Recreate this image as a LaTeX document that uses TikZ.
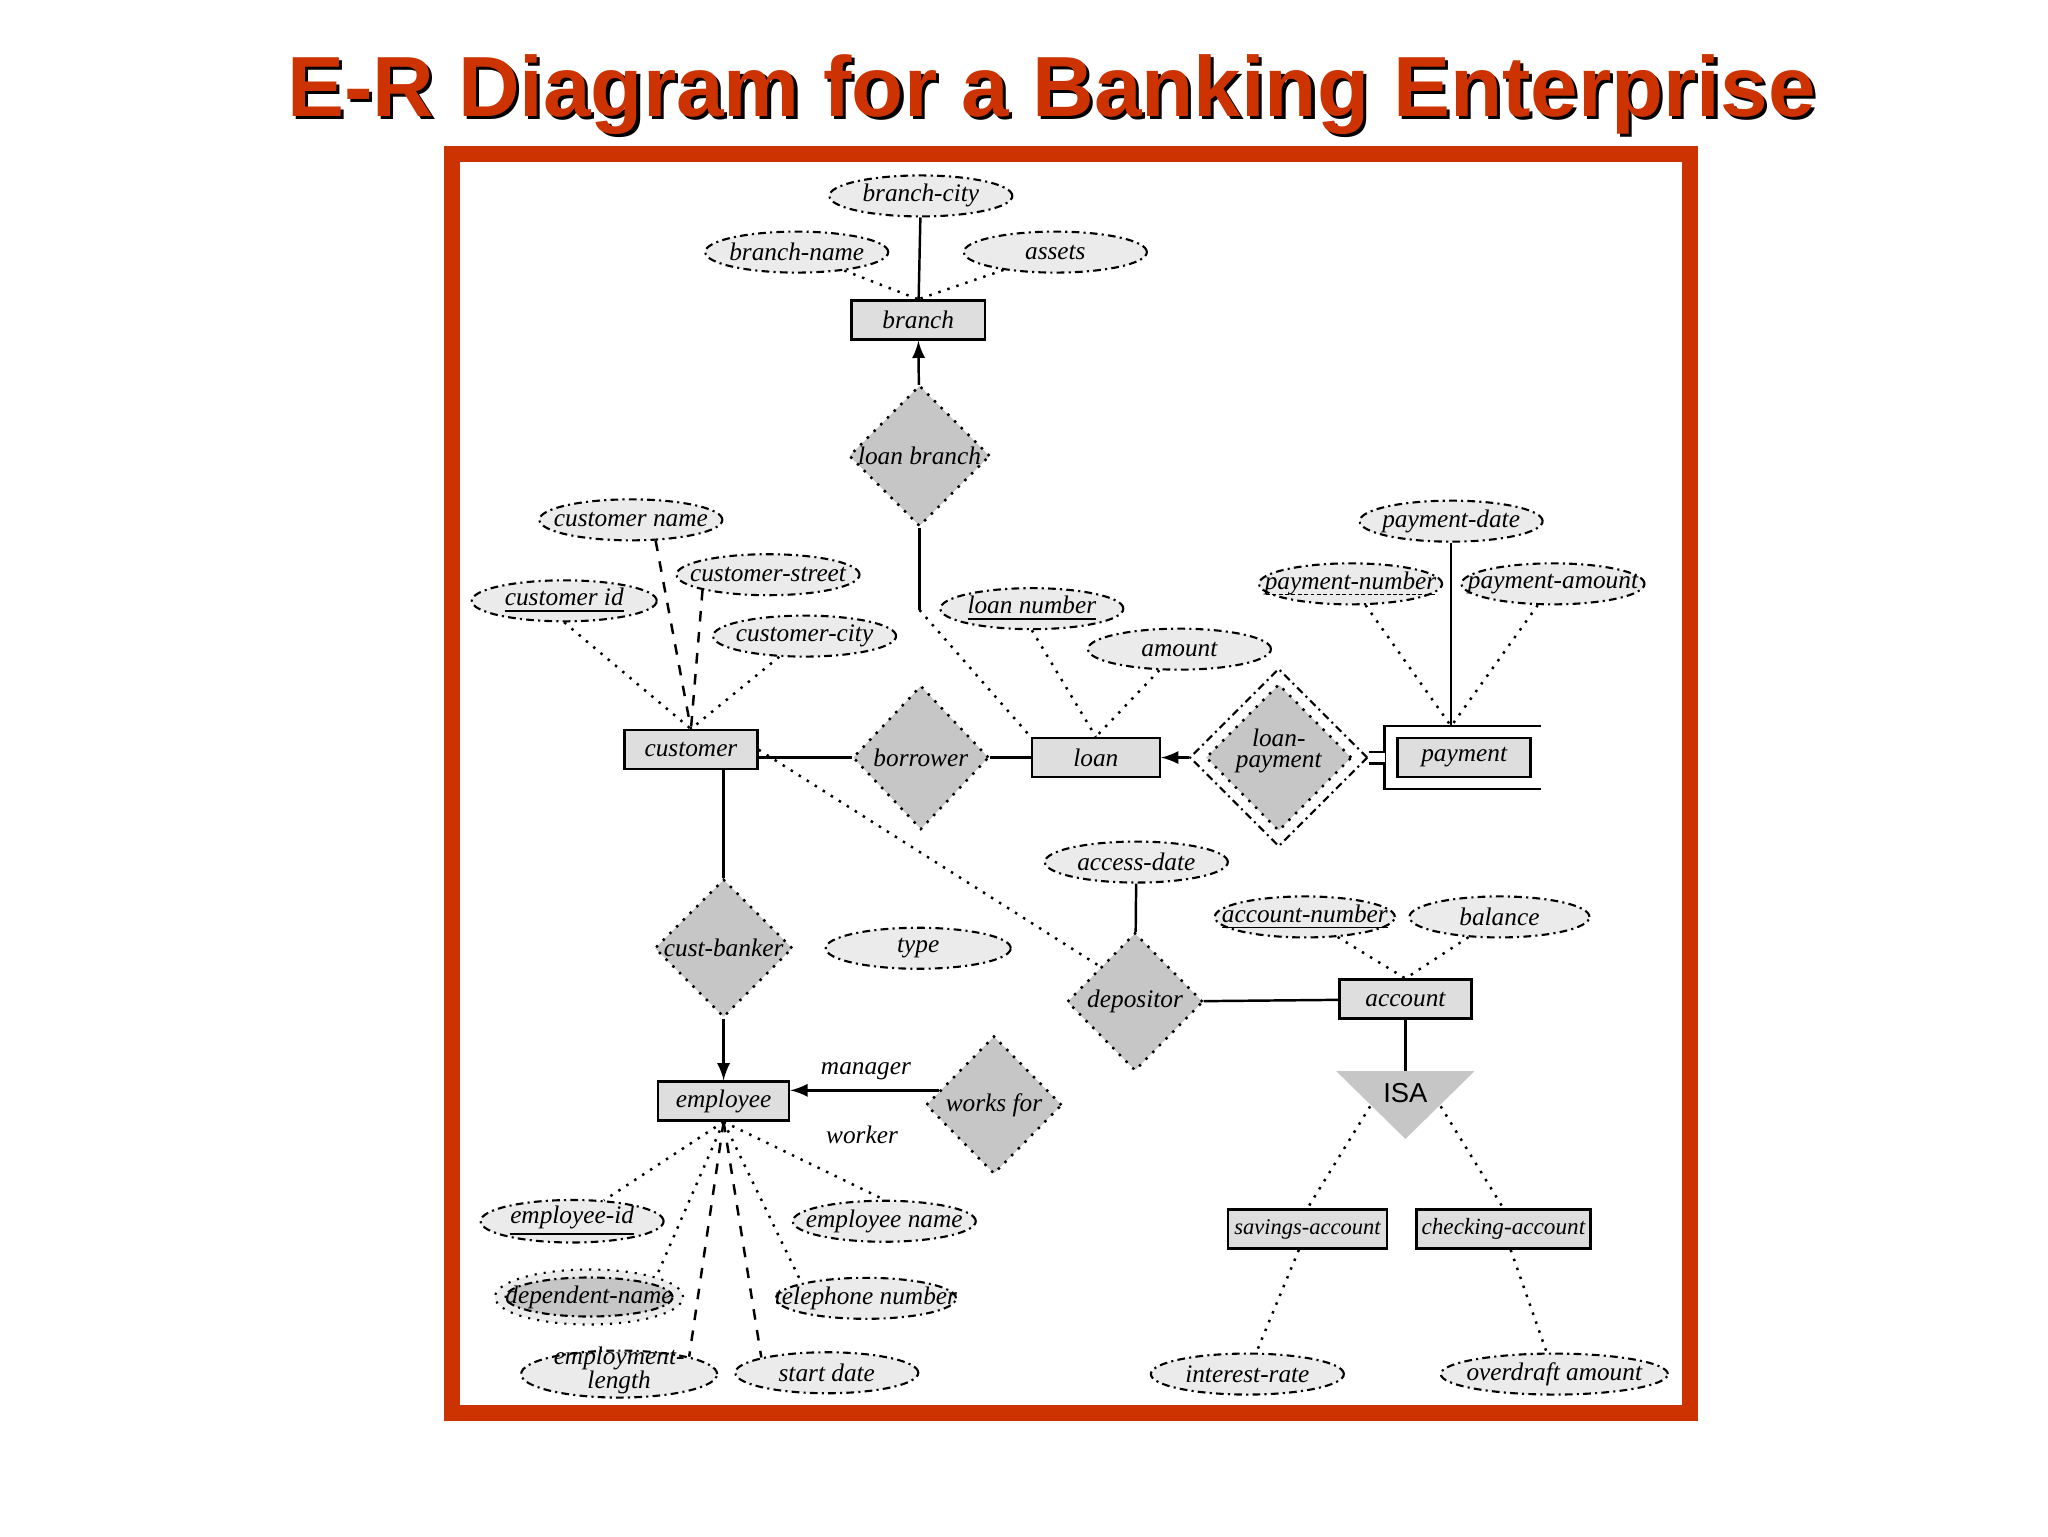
\documentclass[tikz,border=0pt]{standalone}
\usepackage{fontspec}
\setmainfont{Liberation Serif}
\newfontfamily\titlefont{Liberation Sans}
\usepackage{tikz}
\usetikzlibrary{positioning}
\usetikzlibrary{shapes.geometric}
\usepackage{xcolor}

\definecolor{framered}{HTML}{CC3300}
\definecolor{entfill}{HTML}{DEDEDE}
\definecolor{relfill}{HTML}{C6C6C6}
\definecolor{attfill}{HTML}{EBEBEB}

\newcommand{\erfont}{\fontsize{7.2}{7.6}\selectfont\itshape}
\newcommand{\ertext}[1]{\makebox[0pt]{#1}}
\newcommand{\ertwo}[2]{\makebox[0pt]{\smash{\renewcommand{\arraystretch}{0.8}\begin{tabular}{@{}c@{}}#1\\#2\end{tabular}}}}
\newsavebox{\ulbox}
\newcommand{\dashunder}[1]{\sbox{\ulbox}{#1}\rlap{\raisebox{-1.5pt}{\hbox to \wd\ulbox{\xleaders\hbox to 1.8pt{\hss\vrule width 1.1pt height 0.4pt\hss}\hfill}}}\usebox{\ulbox}}

\tikzset{
  entity/.style={draw, line width=0.7pt, fill=entfill, minimum width=13.3mm,
    minimum height=3.9mm, inner sep=0pt, font=\erfont},
  rel/.style={diamond, draw, dotted, line width=0.7pt, fill=relfill,
    minimum width=13.8mm, minimum height=13.8mm, inner sep=0pt, font=\erfont},
  attr/.style={ellipse, draw, line width=0.6pt,
    dash pattern=on 2.2pt off 1.2pt on 0.6pt off 1.2pt, fill=attfill,
    minimum width=18.3mm, minimum height=4.1mm, inner sep=0pt, font=\erfont},
  link/.style={line width=0.7pt},
  dotline/.style={dotted, line width=0.7pt},
  dashline/.style={dashed, line width=0.7pt},
  titletext/.style={anchor=base, font=\titlefont\bfseries\fontsize{24.3}{28}\selectfont},
}

\begin{document}
\begin{tikzpicture}[x=0.1306mm, y=-0.1306mm]
    \useasboundingbox (0,0) rectangle (1568,1176);

    % Title and frame
    \node[titletext, text=black] (titleshadow) at (807.5,91.5) {E-R Diagram for a Banking Enterprise};
    \node[titletext, text=framered] (title) at (805,89) {E-R Diagram for a Banking Enterprise};
    \draw[framered, line width=1.57mm] (346,118) rectangle (1294,1082);

    % Entity sets
    \foreach \nm/\x/\y/\w/\txt in {branch/703/245/13.3/branch,
        customer/529/574/13.3/customer, loan/839/580/12.8/loan,
        payment/1121/580/13.3/payment, employee/554/843/13.1/employee,
        account/1076/765/13.2/account} {
        \node[entity, minimum width=\w mm] (\nm) at (\x,\y) {\ertext{\txt}};
    }
    \node[entity, minimum width=15.9mm, font=\erfont\fontsize{6.4}{7}\selectfont] (savings) at (1001,941) {\ertext{savings-account}};
    \node[entity, minimum width=17.4mm, font=\erfont\fontsize{6.6}{7}\selectfont] (checking) at (1151,941) {\ertext{checking-account}};

    % Relationship sets
    \node[rel, minimum width=14.1mm, minimum height=14.1mm] (lb) at (704,349) {\ertext{loan branch}};
    \node[rel, minimum width=13.6mm, minimum height=14.4mm] (borrower) at (705,580) {\ertext{borrower}};
    \node[diamond, draw, line width=0.6pt, dash pattern=on 2.2pt off 1.2pt on 0.6pt off 1.2pt,
        minimum width=17.8mm, minimum height=17.8mm] (lpout) at (979,580) {};
    \node[rel, minimum width=14.6mm, minimum height=14.7mm] (lp) at (979,580) {\ertwo{loan-}{payment}};
    \node[rel] (custbanker) at (554,726) {\ertext{cust-banker}};
    \node[rel, minimum width=13.6mm] (depositor) at (869,767) {\ertext{depositor}};
    \node[rel, minimum width=13.6mm] (worksfor) at (761,846) {\ertext{works for}};

    % ISA triangle
    \fill[relfill] (1023,820) -- (1129,820) -- (1076,872) -- cycle;
    \node[font=\titlefont\fontsize{7.8}{9}\selectfont] (isa) at (1076,837) {ISA};
    \coordinate (isatop) at (1076,820);
    \coordinate (isaleft) at (1049,847);
    \coordinate (isaright) at (1103,847);

    % Attributes
    \foreach \nm/\x/\y/\w/\txt in {bcity/705/150/18.3/branch-city,
        bname/610/193/18.3/branch-name, assets/808/193/18.3/assets,
        cname/483/398/18.3/customer name, cstreet/588/440/18.3/customer-street,
        cid/432/460/18.5/\underline{customer id}, ccity/616/487/18.3/customer-city,
        lnum/790/466/18.3/\underline{loan number}, amount/903/497/18.3/amount,
        pdate/1111/399/18.3/payment-date, pnum/1034/447/18.3/\dashunder{payment-number},
        pamt/1189/447/18.3/payment-amount, adate/870/660/18.3/access-date,
        anum/999/702/18.0/\underline{account-number}, balance/1148/702/18.0/balance,
        type/703/726/18.5/type, eid/438/935/18.3/\underline{employee-id},
        ename/677/935/18.3/employee name, tel/663/994/18.0/telephone number,
        sdate/633/1051/18.3/start date, irate/955/1052/19.3/interest-rate,
        overdraft/1190/1052/22.7/overdraft amount} {
        \node[attr, minimum width=\w mm] (\nm) at (\x,\y) {\ertext{\txt}};
    }
    \node[attr, dotted, minimum width=18.8mm, minimum height=5.5mm] (dname) at (451,993) {};
    \node[attr, fill=relfill, minimum width=16.7mm, minimum height=3.9mm] (dnamein) at (451,993) {\ertext{dependent-name}};
    \node[attr, minimum width=19.6mm, minimum height=4.7mm] (elen) at (474,1052) {\raisebox{-1.6pt}{\ertwo{employment-}{length}}};

    % Role names
    \node[font=\erfont] (manager) at (663,820) {manager};
    \node[font=\erfont] (worker) at (660,869) {worker};

    % branch
    \draw[link] (bcity) -- (branch);
    \draw[dotline] (bname) -- (branch.north);
    \draw[dotline] (assets) -- (branch.north);
    \draw[link, -latex] (lb) -- (branch);
    \coordinate (lbbend) at (704,467);
    \draw[link] (lb) -- (lbbend);
    \draw[dotline] (lbbend) -- (loan.north west);

    % customer
    \draw[dashline] (cname.-40) -- (customer.north);
    \draw[dashline] (cstreet.south west) -- (customer.north);
    \draw[dotline] (cid.south) -- (customer.north);
    \draw[dotline] (ccity) -- (customer.north);
    \draw[link] (borrower.west -| customer.east) -- (borrower.west);
    \draw[link] (borrower) -- (loan);
    \draw[dotline] (customer.east) -- (depositor.north west);

    % loan and payment
    \draw[dotline] (lnum.south) -- (loan.north);
    \draw[dotline] (amount) -- (loan.north);
    \draw[link, -latex] (lpout.west) -- (loan.east);
    \coordinate (payleft) at ([shift={(-61,0)}]payment.center);
    \coordinate (paytop) at ([shift={(-10,-24)}]payment.center);
    \draw[link] ([shift={(59,-24)}]payment.center) -- ([shift={(-61,-24)}]payment.center)
        -- ([shift={(-61,24)}]payment.center) -- ([shift={(59,24)}]payment.center);
    \draw[link, double, double distance=0.9mm] (lpout.east) -- (payleft);
    \draw[link] (pdate) -- (paytop);
    \draw[dotline] (pnum) -- (paytop);
    \draw[dotline] (pamt) -- (paytop);

    % account
    \draw[link] (adate) -- (depositor);
    \draw[link] (depositor) -- (account);
    \draw[dotline] (anum) -- (account.north);
    \draw[dotline] (balance) -- (account.north);
    \draw[link] (account) -- (isatop);
    \draw[dotline] (isaleft) -- (savings.north);
    \draw[dotline] (isaright) -- (checking.north);
    \draw[dotline] (savings) -- (irate);
    \draw[dotline] (checking) -- (overdraft);

    % employee
    \draw[link] (customer.south -| custbanker.north) -- (custbanker);
    \draw[link, -latex] (custbanker) -- (employee);
    \draw[link, -latex] (worksfor.165) -- (worksfor.165 -| employee.east);
    \draw[dotline] (employee.south) -- (eid);
    \draw[dotline] (employee.south) -- (dname.north east);
    \draw[dashline] (employee.south) -- (elen.north east);
    \draw[dashline] (employee.south) -- (sdate.north west);
    \draw[dotline] (employee.south) -- (tel.north west);
    \draw[dotline] (employee.south) -- (ename.north);
\end{tikzpicture}
\end{document}
